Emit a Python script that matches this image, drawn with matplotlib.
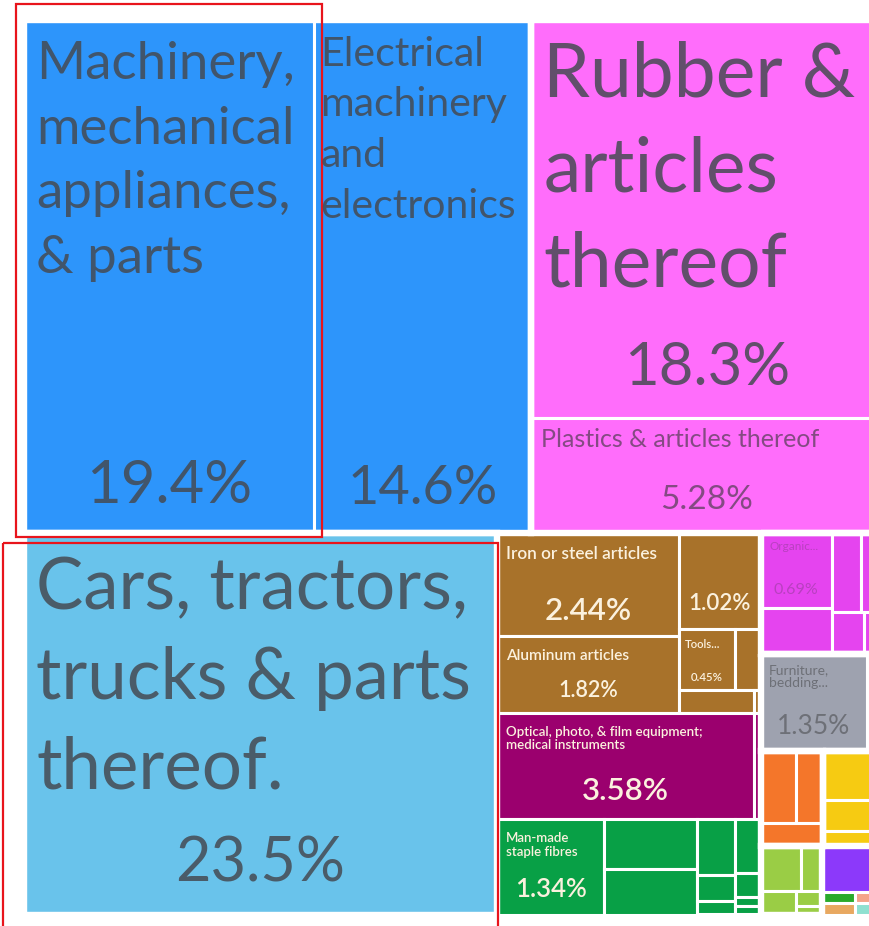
import matplotlib
matplotlib.use('Agg')
import matplotlib.pyplot as plt
from matplotlib.patches import Rectangle

plt.rcParams['font.family'] = ['Lato', 'DejaVu Sans']

# export shares in %, one entry per tile (unlabelled tiles)
names = [
    "Machinery,\nmechanical\nappliances,\n& parts",
    "Electrical\nmachinery\nand\nelectronics",
    "Rubber &\narticles\nthereof",
    "Plastics & articles thereof",
    "Cars, tractors,\ntrucks & parts\nthereof.",
    "Iron or steel articles", "", "Aluminum articles", "Tools...", "", "", "",
    "Optical, photo, & film equipment;\nmedical instruments", "",
    "Man-made\nstaple fibres", "", "", "", "", "", "", "", "", "",
    "Organic...", "", "", "", "", "",
    "Furniture,\nbedding...", "",
    "", "", "", "", "", "",
    "", "", "", "", "",
    "", "", "", "", "",
]
shares = [
    19.4, 14.6, 18.3, 5.28, 23.5,
    2.44, 1.02, 1.82, 0.45, 0.21, 0.22, 0.02,
    3.58, 0.10,
    1.34, 0.60, 0.55, 0.28, 0.13, 0.07, 0.18, 0.08, 0.03, 0.03,
    0.69, 0.42, 0.30, 0.22, 0.18, 0.10,
    1.35, 0.20,
    0.33, 0.25, 0.19, 0.38, 0.24, 0.12,
    0.23, 0.12, 0.11, 0.05, 0.03,
    0.36, 0.05, 0.05, 0.04, 0.04,
]
sectors = (["machinery"] * 2 + ["plastics"] * 2 + ["transport"] + ["metals"] * 7
           + ["instruments"] * 2 + ["textiles"] * 10 + ["chemicals"] * 6 + ["misc"] * 2
           + ["orange"] * 3 + ["yellow"] * 3 + ["vegetable"] * 5
           + ["purple", "green2", "beige", "salmon", "teal"])
sector_colors = {
    "machinery": "#2D95FB", "plastics": "#FF6DFB", "transport": "#69C3EB",
    "metals": "#A8722A", "instruments": "#9B006E", "textiles": "#08A046",
    "chemicals": "#E544EF", "misc": "#9EA2AF", "orange": "#F4762A",
    "yellow": "#F6CB12", "vegetable": "#9ACD45", "purple": "#8C39FA",
    "green2": "#2AAA2A", "beige": "#E8A860", "salmon": "#F4A48A", "teal": "#8FE0D0",
}
# sectors separated from their neighbours by a wider white gap
wide_gap = ["machinery", "plastics", "transport", "chemicals", "misc",
            "orange", "yellow", "vegetable"]

# nesting of the tiles: ('h', [...]) splits left->right, ('v', [...]) top->bottom
brown = ('h', [('v', [5, 7]), ('v', [6, ('h', [8, 9]), ('h', [10, 11])])])
optical = ('h', [12, 13])
green = ('h', [14, ('v', [15, 16]), ('v', [17, 18, 19]), ('v', [20, 21, 22, 23])])
chem = ('h', [('v', [24, 25]), ('v', [('h', [26, 27]), ('h', [28, 29])])])
grey = ('h', [30, 31])
oy = ('h', [('v', [('h', [32, 33]), 34]), ('v', [35, 36, 37])])
low = ('h', [('v', [('h', [38, 39]), ('h', [40, ('v', [41, 42])])]),
             ('v', [43, ('h', [('v', [44, 45]), ('v', [46, 47])])])])
rest = ('h', [('v', [brown, optical, green]), ('v', [chem, grey, oy, low])])
tree = ('v', [('h', [0, 1, ('v', [2, 3])]), ('h', [4, rest])])


def total(node):
    if isinstance(node, int):
        return shares[node]
    return sum(total(c) for c in node[1])


def layout(node, x, y, w, h, out):
    if isinstance(node, int):
        out[node] = (x, y, w, h)
        return
    s = total(node)
    for c in node[1]:
        f = total(c) / s
        if node[0] == 'h':
            layout(c, x, y, w * f, h, out)
            x += w * f
        else:
            layout(c, x, y, w, h * f, out)
            y += h * f


rects = {}
# the map runs a little past the right edge of the picture (cropped there)
layout(tree, 24.5, 19.5, 858, 895, rects)

# text for labelled tiles: label size, pct size, colour, alpha, weight, pad x, pad y, pct offset
dark = "#454a52"
light = "#FBF1DE"
text_style = {
    0: (38, 43, dark, 0.85, 'normal', 12, 22, 47),
    1: (29.5, 39, dark, 0.85, 'normal', 7, 16, 45),
    2: (54, 43, dark, 0.85, 'normal', 12, 21, 50),
    3: (18, 24, "#333333", 0.6, 'normal', 10, 10, 33),
    4: (51, 44, dark, 0.85, 'normal', 12, 23, 50),
    5: (12.4, 22.5, light, 1.0, 'semibold', 9, 13, 25),
    6: (8, 16, light, 1.0, 'semibold', 8, 8, 25),
    7: (11.2, 15.5, light, 1.0, 'semibold', 9, 13, 22),
    8: (8.2, 8.2, light, 1.0, 'semibold', 6, 10, 13),
    12: (9.6, 22.5, light, 1.0, 'semibold', 9, 13, 28),
    14: (9.5, 18.5, light, 1.0, 'semibold', 9, 13, 25),
    24: (8.5, 11.5, "#333333", 0.25, 'normal', 9, 8, 18),
    30: (10, 19, "#333333", 0.45, 'normal', 8, 10, 25),
}

fig = plt.figure(figsize=(8.7, 9.26), dpi=100)
ax = fig.add_axes([0, 0, 1, 1])
ax.set_xlim(0, 870)
ax.set_ylim(926, 0)
ax.axis('off')

for i, (x, y, w, h) in rects.items():
    ax.add_patch(Rectangle((x, y), w, h, facecolor=sector_colors[sectors[i]],
                           edgecolor='white', linewidth=2.2))

# wider gaps around some sector blocks
for sec in wide_gap:
    boxes = [rects[i] for i in range(len(shares)) if sectors[i] == sec]
    x0 = min(b[0] for b in boxes)
    y0 = min(b[1] for b in boxes)
    x1 = max(b[0] + b[2] for b in boxes)
    y1 = max(b[1] + b[3] for b in boxes)
    ax.add_patch(Rectangle((x0, y0), x1 - x0, y1 - y0, fill=False,
                           edgecolor='white', linewidth=4.6))

for i, (x, y, w, h) in rects.items():
    if i not in text_style:
        continue
    lsize, psize, col, alpha, weight, px, py, off = text_style[i]
    if names[i]:
        ax.text(x + px, y + py, names[i], fontsize=lsize, color=col, alpha=alpha,
                fontweight=weight, va='top', ha='left',
                linespacing=1.46 if lsize > 25 else 1.15)
    ax.text(x + w / 2, y + h - off, f"{shares[i]:g}%", fontsize=psize, color=col,
            alpha=alpha, fontweight=weight, va='center', ha='center')

# red highlight boxes
ax.add_patch(Rectangle((16, 4), 306, 533, fill=False, edgecolor='#E8141C', linewidth=1.6))
ax.add_patch(Rectangle((3, 543), 495, 400, fill=False, edgecolor='#E8141C', linewidth=1.6))

fig.savefig('out.png', dpi=100)
